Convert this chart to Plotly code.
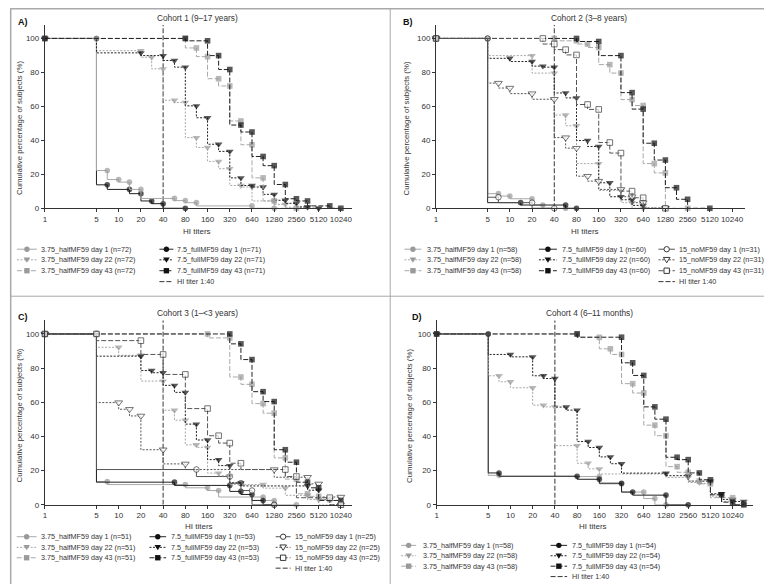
import plotly.graph_objects as go

W, H = 772, 584

X_TICKS = [1, 5, 10, 20, 40, 80, 160, 320, 640, 1280, 2560, 5120, 10240]
Y_TICKS = [0, 20, 40, 60, 80, 100]
HI_THRESHOLD = 40

# ---------------- Panel A: Cohort 1 (9-17 years) ----------------
A_half_d1 = [(7, 22.2), (10, 16.9), (14, 15.4), (20, 11.1), (57, 5.8), (80, 4.5), (113, 3.3), (640, 1.4), (1280, 0)]
A_full_d1 = [(7, 13.8), (14, 11.1), (20, 8.6), (28, 4.3), (40, 2.7), (80, 0)]
A_half_d22 = [(20, 92.8), (28, 88.9), (40, 82.1), (57, 63.6), (80, 62.3), (113, 41.6), (160, 35.8), (226, 27.6),
              (320, 23.3), (453, 13.4), (640, 12.5), (1280, 4.3), (1810, 2.3), (3620, 0.6), (5120, 0)]
A_full_d22 = [(20, 91.5), (40, 89.9), (57, 87.0), (80, 83.1), (113, 60.3), (160, 53.3), (226, 37.7), (320, 33.5),
              (453, 17.9), (640, 13.4), (905, 12.5), (1280, 8.2), (1810, 4.7), (2560, 2.9), (3620, 0.8), (5120, 0)]
A_half_d43 = [(80, 100), (113, 94.4), (160, 89.3), (226, 76.3), (320, 72.0), (453, 51.4), (640, 37.4), (905, 17.9),
              (1280, 4.3), (2560, 0)]
A_full_d43 = [(80, 100), (160, 98.6), (226, 89.9), (320, 81.7), (453, 49.0), (640, 44.9), (905, 30.5), (1280, 25.1),
              (1810, 14.0), (2560, 5.6), (3620, 4.3), (7241, 1.4), (10240, 0)]

# ---------------- Panel B: Cohort 2 (3-8 years) ----------------
B_half_d1 = [(7, 8.6), (10, 7.2), (20, 5.6), (28, 1.9), (57, 0)]
B_full_d1 = [(14, 3.3), (57, 1.9), (80, 0)]
B_no_d1 = [(7, 6.5), (20, 3.3), (40, 0)]
B_half_d22 = [(20, 89.9), (40, 79.6), (57, 54.9), (80, 48.6), (160, 26.3), (320, 10.5), (453, 3.3), (640, 0)]
B_full_d22 = [(10, 88.3), (20, 86.4), (28, 83.7), (40, 83.1), (57, 67.9), (80, 65.0), (113, 39.9), (160, 36.4),
              (226, 15.0), (320, 6.8), (453, 5.0), (640, 1.7), (1280, 0)]
B_no_d22 = [(7, 73.7), (10, 70.8), (20, 67.5), (40, 64.2), (57, 41.6), (80, 35.4), (113, 18.9), (160, 16.0),
            (320, 11.1), (453, 6.8), (640, 3.3), (1280, 0)]
B_half_d43 = [(40, 100), (80, 98.6), (113, 96.7), (160, 94.7), (226, 84.6), (320, 79.6), (453, 64.0), (640, 60.5),
              (905, 26.3), (1280, 20.8), (2560, 0)]
B_full_d43 = [(80, 100), (160, 98.2), (320, 89.9), (453, 68.1), (640, 58.4), (905, 38.3), (1280, 28.4), (1810, 12.1),
              (2560, 5.3), (5120, 0)]
B_no_d43 = [(28, 100), (40, 96.7), (57, 93.4), (80, 90.3), (113, 61.1), (160, 58.2), (226, 38.7), (320, 32.5),
            (453, 10.1), (640, 6.2), (1280, 0)]

# ---------------- Panel C: Cohort 3 (1-<3 years) ----------------
C_half_d1 = [(7, 13.6), (80, 11.8), (160, 9.9), (226, 8.3), (905, 4.5), (1280, 2.5), (2560, 0)]
C_full_d1 = [(57, 13.2), (320, 11.3), (453, 7.8), (640, 6.0), (905, 2.5), (1280, 0)]
C_no_d1 = [(113, 20.6), (320, 16.5), (453, 12.6), (640, 8.3), (1280, 0)]
C_half_d22 = [(10, 92.2), (20, 87.5), (40, 72.4), (57, 55.3), (80, 49.5), (113, 35.1), (160, 33.6), (226, 18.5),
              (320, 17.0), (905, 11.8), (1810, 9.7), (3620, 5.5), (5120, 3.0), (10240, 0)]
C_full_d22 = [(20, 87.0), (28, 78.6), (40, 77.3), (57, 69.9), (80, 65.8), (113, 47.2), (160, 37.9), (226, 26.4),
              (320, 22.9), (453, 12.8), (3620, 11.0), (5120, 8.5), (7241, 3.0), (10240, 0)]
C_no_d22 = [(10, 59.8), (14, 55.9), (20, 52.0), (40, 32.2), (80, 23.9), (1280, 20.6), (3620, 16.1), (5120, 12.2),
            (10240, 4.5)]
C_half_d43 = [(160, 100), (320, 97.7), (453, 74.8), (640, 70.5), (905, 59.2), (1280, 53.6), (1810, 27.4), (2560, 15.0),
              (3620, 6.4), (5120, 4.9), (7241, 3.0), (10240, 0)]
C_full_d43 = [(320, 100), (453, 94.2), (640, 85.0), (905, 66.2), (1280, 60.4), (1810, 32.2), (2560, 24.9), (3620, 13.2),
              (5120, 9.9), (10240, 2.5)]
C_no_d43 = [(5, 100), (20, 96.1), (40, 88.0), (80, 76.3), (160, 56.3), (226, 40.4), (320, 36.1), (453, 24.3),
            (1810, 20.6), (2560, 16.5), (7241, 4.1), (10240, 0)]

# ---------------- Panel D: Cohort 4 (6-11 months) ----------------
D_half_d1 = [(7, 17.2), (160, 16.5), (320, 12.2), (640, 7.4), (905, 3.6), (1280, 0)]
D_full_d1 = [(7, 18.6), (80, 16.7), (160, 14.9), (320, 12.6), (453, 7.4), (1280, 5.6), (2560, 0)]
D_half_d22 = [(7, 75.5), (10, 72.0), (20, 68.5), (28, 58.3), (40, 57.3), (80, 34.6), (113, 24.3), (160, 21.0),
              (1280, 18.0), (2560, 16.0), (3620, 13.0), (5120, 12.5), (7241, 5.0), (10240, 2.0), (14482, 0)]
D_full_d22 = [(10, 88.0), (20, 86.6), (28, 75.5), (40, 73.9), (57, 57.2), (80, 55.4), (113, 37.0), (160, 33.5),
              (226, 28.0), (320, 24.0), (1280, 18.5), (2560, 17.0), (5120, 13.8), (7241, 6.4), (10240, 3.1), (14482, 1.9)]
D_half_d43 = [(80, 100), (160, 98.0), (226, 91.3), (320, 88.0), (453, 70.9), (640, 65.4), (905, 46.6), (1280, 40.4),
              (1810, 22.3), (2560, 19.0), (3620, 13.8), (5120, 12.2), (10240, 4.1), (14482, 0)]
D_full_d43 = [(80, 100), (320, 98.1), (453, 83.1), (640, 75.7), (905, 57.3), (1280, 50.1), (1810, 27.8), (2560, 26.4),
              (3620, 18.6), (5120, 14.6), (7241, 5.8), (10240, 1.5), (14482, 0)]

GROUP_NAMES = {"half": "3.75_halfMF59", "full": "7.5_fullMF59", "no": "15_noMF59"}
N_A = {"half": 72, "full": 71}
N_B = {"half": 58, "full": 60, "no": 31}
N_C = {"half": 51, "full": 53, "no": 25}
N_D = {"half": 58, "full": 54}

# ---------------- styles ----------------
FONT = "Liberation Sans, Arial, sans-serif"
TXT = "#333333"
GROUP_STYLE = {
    "half": dict(fill="#9a9a9a", edge="#9a9a9a", line="#a8a8a8", ew=0),
    "full": dict(fill="#111111", edge="#111111", line="#222222", ew=0),
    "no": dict(fill="#ffffff", edge="#222222", line="#555555", ew=0.9),
}
DAY_STYLE = {
    1: dict(symbol="circle", size=5.6, dash="solid"),
    22: dict(symbol="triangle-down", size=6.8, dash="2px,1.5px"),
    43: dict(symbol="square", size=5.6, dash="5px,2px"),
}
HI_DASH = "5px,2px"
LEGEND_FONT_SIZE = 7.2


def px(x):
    return x / W


def py(y):
    return 1 - y / H


PANELS = [
    dict(ax="", xdom=(35, 343), ydom=(17, 202), n=N_A,
         series=[(A_full_d1, "full", 1), (A_half_d1, "half", 1), (A_half_d22, "half", 22), (A_full_d22, "full", 22),
                 (A_half_d43, "half", 43), (A_full_d43, "full", 43)],
         title="Cohort 1 (9–17 years)", title_xy=(188, 10), letter="A)", letter_xy=(6, 14),
         ytitle_xy=(10, 121), xtitle_xy=(188, 225),
         rows=[243.3, 254, 265, 276],
         cols=[(7, 27, 29, [("half", 1), ("half", 22), ("half", 43)]),
               (150, 164, 166, [("full", 1), ("full", 22), ("full", 43), "hi"])]),
    dict(ax="2", xdom=(427.7, 738), ydom=(17, 202), n=N_B,
         series=[(B_half_d1, "half", 1), (B_full_d1, "full", 1), (B_no_d1, "no", 1),
                 (B_half_d22, "half", 22), (B_full_d22, "full", 22), (B_no_d22, "no", 22),
                 (B_half_d43, "half", 43), (B_full_d43, "full", 43), (B_no_d43, "no", 43)],
         title="Cohort 2 (3–8 years)", title_xy=(581, 10), letter="B)", letter_xy=(393, 14),
         ytitle_xy=(399, 121), xtitle_xy=(577, 225),
         rows=[243.3, 254, 265, 276],
         cols=[(396, 413, 416.7, [("half", 1), ("half", 22), ("half", 43)]),
               (531, 549, 551.7, [("full", 1), ("full", 22), ("full", 43)]),
               (651, 667.5, 669.5, [("no", 1), ("no", 22), ("no", 43), "hi"])]),
    dict(ax="3", xdom=(35, 343), ydom=(315, 501), n=N_C,
         series=[(C_half_d1, "half", 1), (C_full_d1, "full", 1), (C_no_d1, "no", 1),
                 (C_half_d22, "half", 22), (C_full_d22, "full", 22), (C_no_d22, "no", 22),
                 (C_half_d43, "half", 43), (C_full_d43, "full", 43), (C_no_d43, "no", 43)],
         title="Cohort 3 (1–&lt;3 years)", title_xy=(188, 308), letter="C)", letter_xy=(6, 312),
         ytitle_xy=(10, 411), xtitle_xy=(190, 523),
         rows=[533.3, 544, 554.5, 565],
         cols=[(6.7, 26.7, 29.3, [("half", 1), ("half", 22), ("half", 43)]),
               (140, 156.7, 159.3, [("full", 1), ("full", 22), ("full", 43)]),
               (266.7, 281.7, 284, [("no", 1), ("no", 22), ("no", 43), "hi"])]),
    dict(ax="4", xdom=(428.3, 746), ydom=(315, 501), n=N_D,
         series=[(D_half_d1, "half", 1), (D_full_d1, "full", 1), (D_half_d22, "half", 22), (D_full_d22, "full", 22),
                 (D_half_d43, "half", 43), (D_full_d43, "full", 43)],
         title="Cohort 4 (6–11 months)", title_xy=(581.5, 308), letter="D)", letter_xy=(402, 312),
         ytitle_xy=(401, 411), xtitle_xy=(585, 523),
         rows=[542, 552.5, 563, 573.5],
         cols=[(392.7, 407.7, 413, [("half", 1), ("half", 22), ("half", 43)]),
               (542.7, 559.3, 561.7, [("full", 1), ("full", 22), ("full", 43), "hi"])]),
]

PX_PER_DECADE = 74.1
Y_MAX = 108

fig = go.Figure()
shapes = []
annotations = []
layout_axes = {}

for p in PANELS:
    xa = "x" + p["ax"]
    ya = "y" + p["ax"]
    # threshold line (HI titer 1:40)
    fig.add_trace(go.Scatter(x=[HI_THRESHOLD, HI_THRESHOLD], y=[0, Y_MAX], mode="lines",
                             line=dict(color="#333333", width=1, dash=HI_DASH),
                             xaxis=xa, yaxis=ya, showlegend=False, hoverinfo="skip"))
    for pts, grp, day in p["series"]:
        gs = GROUP_STYLE[grp]
        ds = DAY_STYLE[day]
        if day == 43:
            full = [(1, 100)] + pts
        else:
            full = [(1, 100), (5, 100)] + pts
        xs = [q[0] for q in full]
        ys = [q[1] for q in full]
        sizes = [ds["size"]] * len(xs)
        if day == 22:
            sizes[1] = 0
        fig.add_trace(go.Scatter(
            x=xs, y=ys, mode="lines+markers", line_shape="vh",
            line=dict(color=gs["line"], width=1, dash=ds["dash"]),
            marker=dict(symbol=ds["symbol"], size=sizes, color=gs["fill"],
                        line=dict(color=gs["edge"], width=gs["ew"])),
            cliponaxis=False, xaxis=xa, yaxis=ya, showlegend=False,
            name=f"{GROUP_NAMES[grp]} day {day}"))

    x0, x1 = p["xdom"]
    y0, y1 = p["ydom"]
    xkey = "xaxis" + p["ax"]
    ykey = "yaxis" + p["ax"]
    layout_axes[xkey] = dict(
        type="log", domain=[px(x0), px(x1)], range=[0, (x1 - x0) / PX_PER_DECADE], anchor=ya,
        tickvals=X_TICKS, ticktext=[str(v) for v in X_TICKS], ticks="outside", ticklen=3, tickangle=0,
        tickwidth=1, tickcolor="#333333", showline=True, linecolor="#333333", linewidth=1,
        showgrid=False, zeroline=False, tickfont=dict(family=FONT, size=8, color=TXT))
    layout_axes[ykey] = dict(
        domain=[py(y1), py(y0)], range=[0, Y_MAX], anchor=xa,
        tickvals=Y_TICKS, ticks="outside", ticklen=3, tickwidth=1, tickcolor="#333333",
        showline=True, linecolor="#333333", linewidth=1, showgrid=False, zeroline=False,
        tickfont=dict(family=FONT, size=8, color=TXT))

    # texts
    annotations.append(dict(text=p["title"], x=px(p["title_xy"][0]), y=py(p["title_xy"][1]), xref="paper",
                            yref="paper", showarrow=False, xanchor="center", yanchor="middle",
                            font=dict(family=FONT, size=8.3, color=TXT)))
    annotations.append(dict(text="<b>" + p["letter"] + "</b>", x=px(p["letter_xy"][0]), y=py(p["letter_xy"][1]),
                            xref="paper", yref="paper", showarrow=False, xanchor="left", yanchor="middle",
                            font=dict(family=FONT, size=9, color="#111111")))
    annotations.append(dict(text="Cumulative percentage of subjects (%)", x=px(p["ytitle_xy"][0]),
                            y=py(p["ytitle_xy"][1]), xref="paper", yref="paper", showarrow=False,
                            textangle=-90, xanchor="center", yanchor="middle",
                            font=dict(family=FONT, size=7.8, color=TXT)))
    annotations.append(dict(text="HI titers", x=px(p["xtitle_xy"][0]), y=py(p["xtitle_xy"][1]), xref="paper",
                            yref="paper", showarrow=False, xanchor="center", yanchor="middle",
                            font=dict(family=FONT, size=8, color=TXT)))

    # legend (drawn manually to match compact layout)
    for lx0, lx1, tx, entries in p["cols"]:
        for row_y, entry in zip(p["rows"], entries):
            if entry == "hi":
                shapes.append(dict(type="line", xref="paper", yref="paper", x0=px(lx0), x1=px(lx1),
                                   y0=py(row_y), y1=py(row_y), line=dict(color="#333333", width=1, dash=HI_DASH)))
                label = "HI titer 1:40"
            else:
                grp, day = entry
                gs = GROUP_STYLE[grp]
                ds = DAY_STYLE[day]
                shapes.append(dict(type="line", xref="paper", yref="paper", x0=px(lx0), x1=px(lx1),
                                   y0=py(row_y), y1=py(row_y), line=dict(color=gs["line"], width=1, dash=ds["dash"])))
                cx = (lx0 + lx1) / 2
                r = 2.7
                mline = dict(color=gs["edge"], width=gs["ew"] if gs["ew"] else 0)
                if ds["symbol"] == "circle":
                    shapes.append(dict(type="circle", xref="paper", yref="paper", x0=px(cx - r), x1=px(cx + r),
                                       y0=py(row_y + r), y1=py(row_y - r), fillcolor=gs["fill"], line=mline))
                elif ds["symbol"] == "square":
                    shapes.append(dict(type="rect", xref="paper", yref="paper", x0=px(cx - r), x1=px(cx + r),
                                       y0=py(row_y + r), y1=py(row_y - r), fillcolor=gs["fill"], line=mline))
                else:
                    path = (f"M {px(cx - 3.3)} {py(row_y - 2.4)} L {px(cx + 3.3)} {py(row_y - 2.4)} "
                            f"L {px(cx)} {py(row_y + 3.0)} Z")
                    shapes.append(dict(type="path", xref="paper", yref="paper", path=path,
                                       fillcolor=gs["fill"], line=mline))
                label = f"{GROUP_NAMES[grp]} day {day} (n={p['n'][grp]})"
            annotations.append(dict(text=label, x=px(tx), y=py(row_y), xref="paper", yref="paper",
                                    showarrow=False, xanchor="left", yanchor="middle",
                                    font=dict(family=FONT, size=LEGEND_FONT_SIZE, color=TXT)))

# figure frame and panel dividers
FRAME = "#a9a9a9"
shapes.append(dict(type="rect", xref="paper", yref="paper", x0=px(0.7), x1=px(770.3), y0=py(582.5), y1=py(0.7),
                   line=dict(color=FRAME, width=1.5), fillcolor="rgba(0,0,0,0)", layer="below"))
shapes.append(dict(type="line", xref="paper", yref="paper", x0=px(381.7), x1=px(381.7), y0=py(0.7), y1=py(582.5),
                   line=dict(color=FRAME, width=1)))
shapes.append(dict(type="line", xref="paper", yref="paper", x0=px(0.7), x1=px(770.3), y0=py(290.7), y1=py(290.7),
                   line=dict(color=FRAME, width=1)))

fig.update_layout(
    width=W, height=H, autosize=False,
    margin=dict(l=0, r=0, t=0, b=0, pad=0),
    paper_bgcolor="white", plot_bgcolor="white",
    showlegend=False, shapes=shapes, annotations=annotations,
    font=dict(family=FONT, color=TXT),
    **layout_axes)

fig.write_html("out.html")
